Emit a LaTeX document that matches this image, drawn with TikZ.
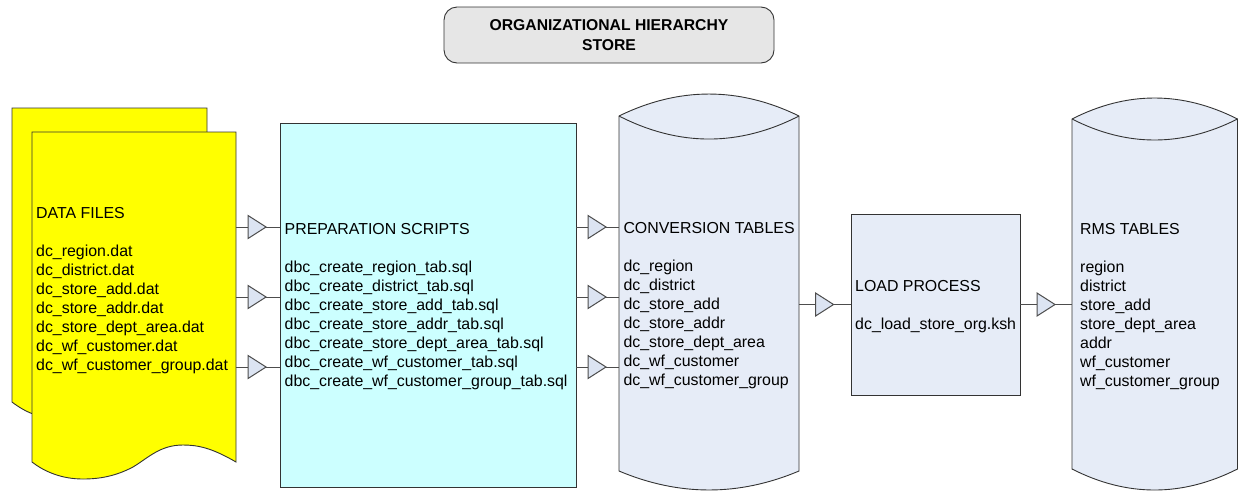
\documentclass[tikz,border=0pt]{standalone}
\usepackage{fontspec}
\setmainfont{Liberation Sans}
\usetikzlibrary{decorations.markings}

\definecolor{docyellow}{HTML}{FFFF00}
\definecolor{prepcyan}{HTML}{CCFFFF}
\definecolor{tablefill}{HTML}{E6ECF7}
\definecolor{tipfill}{HTML}{DCE4F2}
\definecolor{titlefill}{HTML}{E6E6E6}
\definecolor{outline}{HTML}{333333}
\definecolor{wire}{HTML}{4D4D4D}

\tikzset{
  shapeline/.style={draw=outline, line width=0.9pt},
  body/.style={font=\fontsize{15.9}{19}\selectfont, align=left, anchor=north west, inner sep=0pt, text=black},
  frame/.style={inner sep=0pt, outer sep=0pt},
  % a connector with an open triangle sitting on it, tip #1 before the end
  flow/.style={draw=wire, line width=1pt, postaction={decorate},
    decoration={markings, mark=at position -#1 with
      {\filldraw[fill=tipfill, draw=wire, line width=1pt, line join=miter]
         (-18,-11.5) -- (0,0) -- (-18,11.5) -- cycle;}}},
}

\begin{document}
\begin{tikzpicture}[x=1pt, y=-1pt]
\useasboundingbox (0,0) rectangle (1238,491);

% title banner
\node[shapeline, fill=titlefill, rounded corners=13pt, minimum width=330, minimum height=56,
      inner sep=0pt, align=center, font=\bfseries\fontsize{15.7}{19.4}\selectfont]
  (title) at (609,35) {ORGANIZATIONAL HIERARCHY\\STORE};

% stacked data-file documents, each with a wavy lower edge
\filldraw[shapeline, fill=docyellow]
  (12,108) -- (207,108) -- (207,419) -- (63,419)
  .. controls (40,419) and (25,412) .. (12,402) -- cycle;
\filldraw[shapeline, fill=docyellow]
  (32,132) -- (236,132) -- (236,462)
  .. controls (212,448) and (198,445) .. (183,445)
  .. controls (160,445) and (148,458) .. (133,467)
  .. controls (116,476) and (100,479) .. (83,479)
  .. controls (62,479) and (45,472) .. (32,462) -- cycle;
\node[frame, minimum width=204, minimum height=330] (data) at (134,297) {};
\node[body] (datatxt) at (36,207.3) {DATA FILES\\[19pt]
  dc\_region.dat\\
  dc\_district.dat\\
  dc\_store\_add.dat\\
  dc\_store\_addr.dat\\
  dc\_store\_dept\_area.dat\\
  dc\_wf\_customer.dat\\
  dc\_wf\_customer\_group.dat};

% preparation scripts box
\node[shapeline, fill=prepcyan, inner sep=0pt, minimum width=296, minimum height=364] (prep) at (428,305) {};
\node[body] (preptxt) at (284.5,222.8) {PREPARATION SCRIPTS\\[19pt]
  dbc\_create\_region\_tab.sql\\
  dbc\_create\_district\_tab.sql\\
  dbc\_create\_store\_add\_tab.sql\\
  dbc\_create\_store\_addr\_tab.sql\\
  dbc\_create\_store\_dept\_area\_tab.sql\\
  dbc\_create\_wf\_customer\_tab.sql\\
  dbc\_create\_wf\_customer\_group\_tab.sql};

% conversion tables cylinder
\filldraw[shapeline, fill=tablefill] (619,116) .. controls (679,86.7) and (739,86.7) .. (799,116)
  -- (799,471) .. controls (739,496.3) and (679,496.3) .. (619,471) -- cycle;
\draw[shapeline] (619,116) .. controls (679,146.7) and (739,146.7) .. (799,116);
\node[frame, minimum width=180, minimum height=355] (conv) at (709,293.5) {};
\node[body] (convtxt) at (623.3,222.3) {CONVERSION TABLES\\[19pt]
  dc\_region\\
  dc\_district\\
  dc\_store\_add\\
  dc\_store\_addr\\
  dc\_store\_dept\_area\\
  dc\_wf\_customer\\
  dc\_wf\_customer\_group};

% load process box
\node[shapeline, fill=tablefill, inner sep=0pt, minimum width=169, minimum height=181] (load) at (935.5,304.5) {};
\node[body] (loadtxt) at (855,280.3) {LOAD PROCESS\\[19pt]
  dc\_load\_store\_org.ksh};

% RMS tables cylinder
\filldraw[shapeline, fill=tablefill] (1072,119) .. controls (1127,91) and (1182,91) .. (1237.5,119)
  -- (1237.5,469) .. controls (1182,497) and (1127,497) .. (1072,469) -- cycle;
\draw[shapeline] (1072,119) .. controls (1127,147) and (1182,147) .. (1237.5,119);
\node[frame, minimum width=165, minimum height=350] (rms) at (1154.5,294) {};
\node[body] (rmstxt) at (1080,223) {RMS TABLES\\[19pt]
  region\\
  district\\
  store\_add\\
  store\_dept\_area\\
  addr\\
  wf\_customer\\
  wf\_customer\_group};

% flow rows
\coordinate (r1) at (0,227);
\coordinate (r2) at (0,297);
\coordinate (r3) at (0,367);

\draw[flow=13.5pt] (data.east |- r1) -- (prep.west |- r1);
\draw[flow=13.5pt] (data.east |- r2) -- (prep.west |- r2);
\draw[flow=13.5pt] (data.east |- r3) -- (prep.west |- r3);

\draw[flow=13pt] (prep.east |- r1) -- (conv.west |- r1);
\draw[flow=13pt] (prep.east |- r2) -- (conv.west |- r2);
\draw[flow=13pt] (prep.east |- r3) -- (conv.west |- r3);

\draw[flow=17pt] (conv.east |- load.west) -- (load.west);
\draw[flow=17pt] (load.east) -- (rms.west |- load.east);
\end{tikzpicture}
\end{document}
